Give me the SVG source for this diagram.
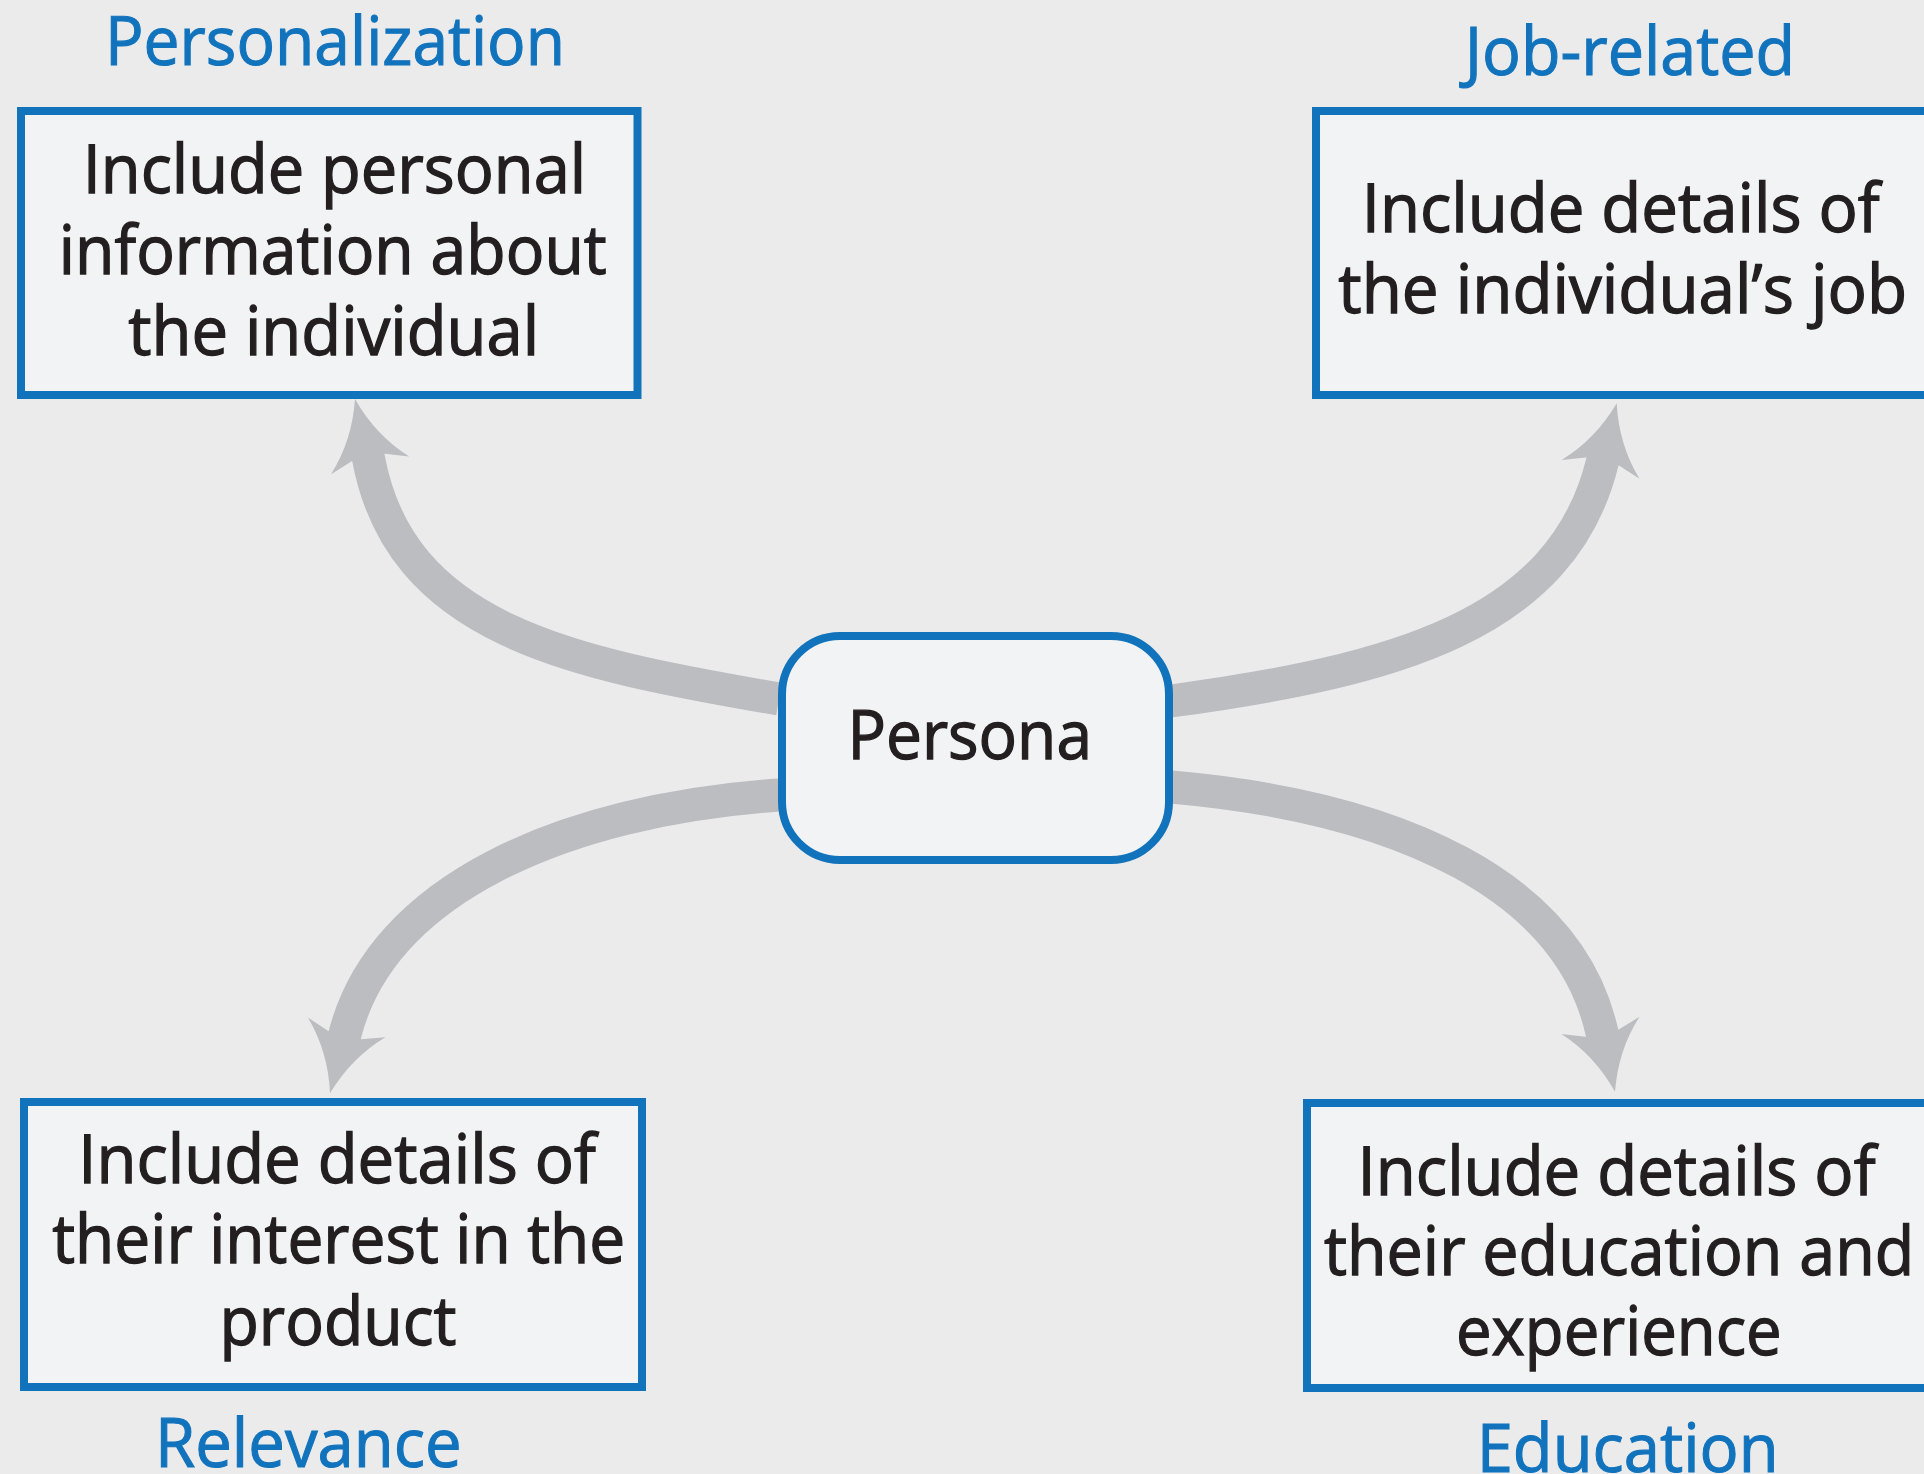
<svg xmlns="http://www.w3.org/2000/svg" xmlns:xlink="http://www.w3.org/1999/xlink" width="1924" height="1474" viewBox="0 0 1924 1474">
<style>
.bg{fill:#ebebeb}
.box{fill:#f2f3f5;stroke:#1273bd;stroke-width:8}
.band{fill:none;stroke:#bcbdc0;stroke-width:33;stroke-linecap:butt;stroke-linejoin:round}
.head{fill:#bcbdc0}
.t{font-family:"Open Sans","Noto Sans","Liberation Sans",sans-serif;font-size:67px;fill:#231f20;stroke:#231f20;stroke-width:1.3px}
.lbl{font-family:"Open Sans","Noto Sans","Liberation Sans",sans-serif;font-size:67px;fill:#1273bd;stroke:#1273bd;stroke-width:1.1px}
</style>
<defs>
<path id="ah" d="M0,0 Q-12,40 -40,68 L-17,60 L17,60 L40,68 Q12,40 0,0 Z"/>
</defs>
<rect class="bg" x="0" y="0" width="1924" height="1474"/>
<g id="connectors">
<path class="band" d="M779,699 C569,663 400,630 368.3,457.4 l-1.8,-7.8"/>
<use class="head" xlink:href="#ah" href="#ah" transform="translate(355,399) rotate(-12.8)"/>
<path class="band" d="M1171,701 C1391,671 1562.2,626.7 1602.5,461.6 l1.9,-7.8"/>
<use class="head" xlink:href="#ah" href="#ah" transform="translate(1616.7,403.3) rotate(13.7)"/>
<path class="band" d="M779,795 C563,810 381.5,889.6 344.7,1035.1 l-2,7.8"/>
<use class="head" xlink:href="#ah" href="#ah" transform="translate(330,1093.3) rotate(194.2)"/>
<path class="band" d="M1171,787 C1401,807 1569.9,886.6 1602.1,1033.1 l1.7,7.8"/>
<use class="head" xlink:href="#ah" href="#ah" transform="translate(1615,1091.7) rotate(167.6)"/>
</g>
<g id="persona">
<rect class="box" x="782" y="636" width="387" height="224" rx="58" ry="58"/>
<text class="t" x="847.4" y="759" textLength="244.6" lengthAdjust="spacingAndGlyphs">Persona</text>
</g>
<g id="personalization">
<text class="lbl" x="105" y="65" textLength="460" lengthAdjust="spacingAndGlyphs">Personalization</text>
<rect class="box" x="21" y="111" width="616.5" height="284"/>
<text class="t" x="82.7" y="193.3" textLength="503.5" lengthAdjust="spacingAndGlyphs">Include personal</text>
<text class="t" x="58.8" y="274" textLength="548" lengthAdjust="spacingAndGlyphs">information about</text>
<text class="t" x="128.2" y="355" textLength="411" lengthAdjust="spacingAndGlyphs">the individual</text>
</g>
<g id="job-related">
<text class="lbl" x="1464.7" y="75" textLength="330.5" lengthAdjust="spacingAndGlyphs">Job-related</text>
<rect class="box" x="1316" y="111" width="700" height="284"/>
<text class="t" x="1361.7" y="231.7" textLength="518" lengthAdjust="spacingAndGlyphs">Include details of</text>
<text class="t" x="1338.3" y="313.3" textLength="568.7" lengthAdjust="spacingAndGlyphs">the individual’s job</text>
</g>
<g id="relevance">
<rect class="box" x="24" y="1102" width="618" height="285"/>
<text class="t" x="78.2" y="1183.3" textLength="517.8" lengthAdjust="spacingAndGlyphs">Include details of</text>
<text class="t" x="52.3" y="1263.3" textLength="573" lengthAdjust="spacingAndGlyphs">their interest in the</text>
<text class="t" x="219.5" y="1345" textLength="237" lengthAdjust="spacingAndGlyphs">product</text>
<text class="lbl" x="155" y="1466.7" textLength="306.6" lengthAdjust="spacingAndGlyphs">Relevance</text>
</g>
<g id="education">
<rect class="box" x="1307" y="1103" width="700" height="285"/>
<text class="t" x="1357.6" y="1195" textLength="518" lengthAdjust="spacingAndGlyphs">Include details of</text>
<text class="t" x="1323.9" y="1275" textLength="590.4" lengthAdjust="spacingAndGlyphs">their education and</text>
<text class="t" x="1456" y="1355" textLength="325.7" lengthAdjust="spacingAndGlyphs">experience</text>
<text class="lbl" x="1476.7" y="1471.7" textLength="302" lengthAdjust="spacingAndGlyphs">Education</text>
</g>
</svg>
